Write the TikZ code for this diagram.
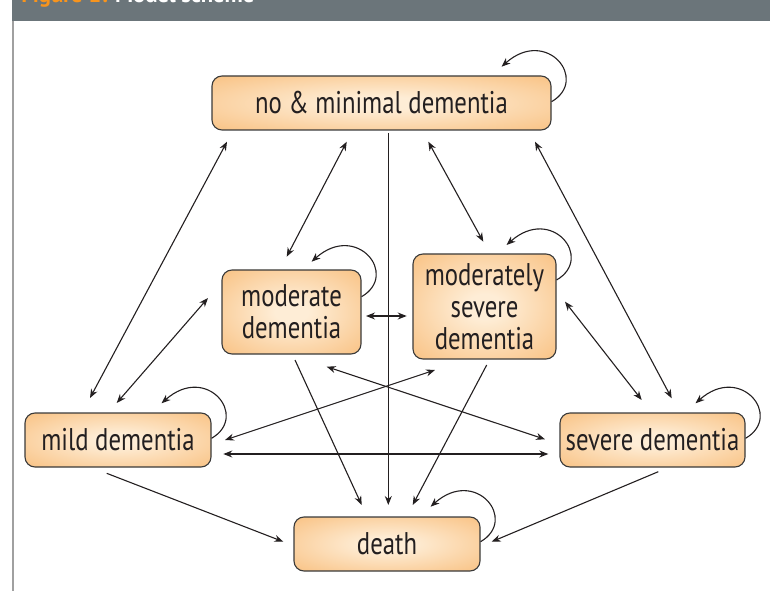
\documentclass[tikz,border=0pt]{standalone}
\usepackage{fontspec}
\setmainfont{PT Sans}
\newfontfamily\boxfont[FakeStretch=0.79]{PT Sans}
\usetikzlibrary{arrows.meta,calc}
\definecolor{lightc}{HTML}{FEEDD6}
\definecolor{orangec}{HTML}{F8BC78}
\definecolor{boxborder}{HTML}{3A3A3A}
\definecolor{linec}{HTML}{231F20}
\definecolor{txt}{HTML}{231F20}
\definecolor{headc}{HTML}{6B757A}
\definecolor{headorange}{HTML}{F7941D}
\definecolor{framec}{HTML}{A0A0A0}
\pgfdeclareradialshading{boxshade}{\pgfpoint{0bp}{0bp}}{color(0bp)=(lightc); color(6bp)=(lightc); color(40bp)=(orangec); color(75bp)=(orangec)}
\begin{document}
\begin{tikzpicture}[x=0.75pt,y=-0.75pt,
  >={Stealth[length=6.75pt,width=5.25pt]},
  box/.style={draw=boxborder, line width=0.825pt, rounded corners=7.5pt, shade, shading=boxshade,
    font=\boxfont\fontsize{23.5}{24}\selectfont, text=txt, align=center, inner sep=0pt},
  conn/.style={draw=linec, line width=0.825pt},
  loopc/.style={draw=linec, line width=0.825pt, ->}]
\useasboundingbox (0,0) rectangle (770,591);
% header and frame
\fill[headc] (12,0) rectangle (770,21);
\node[anchor=base west, inner sep=0pt, font=\bfseries\fontsize{17}{18}\selectfont] (title) at (21,2.5)
  {\textcolor{headorange}{Figure 1:} \textcolor{white}{Model scheme}};
\draw[framec, line width=1.125pt] (13,21) -- (13,591);
% nodes
\node[box, minimum width=254.25pt, minimum height=40.5pt] (nm) at (381.5,103) {no \& minimal dementia};
\node[box, minimum width=104.25pt, minimum height=63pt] (mo) at (291.5,312) {moderate\\dementia};
\node[box, minimum width=107.25pt, minimum height=78.75pt] (ms) at (484.5,306.5) {moderately\\severe\\dementia};
\node[box, minimum width=139.5pt, minimum height=40.5pt] (mi) at (118,440) {mild dementia};
\node[box, minimum width=138.75pt, minimum height=40.5pt] (se) at (652.5,440) {severe dementia};
\node[box, minimum width=139.5pt, minimum height=40.5pt] (de) at (387,544) {death};
% connectors
\draw[conn,<->] ($(mi.center)+(-28,-42)$) -- ($(nm.center)+(-154.5,38.7)$);
\draw[conn,<->] ($(mo.center)+(-83.5,-14)$) -- ($(mi.center)+(-1.3,-37)$);
\draw[conn,<->] ($(nm.center)+(-34.8,38.7)$) -- ($(mo.center)+(-4.8,-55.3)$);
\draw[conn,->] ($(nm.center)+(6.8,30)$) -- ($(de.center)+(1.3,-39)$);
\draw[conn,<->] ($(nm.center)+(46.8,38.7)$) -- ($(ms.center)+(-1.2,-64.8)$);
\draw[conn,<->] ($(nm.center)+(153.5,38.7)$) -- ($(se.center)+(19.2,-41.7)$);
\draw[conn,<->] ($(ms.center)+(80.5,-4.8)$) -- ($(se.center)+(-10.8,-40)$);
\draw[conn,<->] ($(mo.center)+(74.5,4)$) -- ($(ms.center)+(-77.8,9.5)$);
\draw[conn,<->] ($(mi.center)+(107,0)$) -- ($(ms.center)+(-49.5,63.5)$);
\draw[conn,<->] ($(mo.center)+(35.2,54.7)$) -- ($(se.center)+(-107.5,-0.7)$);
\draw[conn,<->] ($(mi.center)+(105.3,14)$) -- ($(se.center)+(-104.2,14)$);
\draw[conn,->] ($(mo.center)+(3.5,48)$) -- ($(de.center)+(-25.3,-39)$);
\draw[conn,->] ($(ms.center)+(2.2,58.5)$) -- ($(de.center)+(25.7,-39)$);
\draw[conn,->] ($(mi.center)+(-11.3,33.3)$) -- ($(de.center)+(-103.7,-2.3)$);
\draw[conn,->] ($(se.center)+(5.8,31.7)$) -- ($(de.center)+(104.7,-2.3)$);
% self loops
\coordinate (nmS) at ($(nm.east)+(0,-1.3)$);
\coordinate (moS) at ($(mo.east)+(0,-15.3)$);
\coordinate (msS) at ($(ms.east)+(0,-26.5)$);
\coordinate (miS) at ($(mi.east)+(0,-1.7)$);
\coordinate (seS) at ($(se.east)+(0,-1.7)$);
\coordinate (deS) at ($(de.east)+(0,-2.3)$);
\foreach \s in {nmS,moS,msS,miS,seS,deS}{
  \draw[loopc] (\s) .. controls ($(\s)+(38,-22)$) and ($(\s)+(-5,-75)$) .. ($(\s)+(-50,-35)$);
}
\end{tikzpicture}
\end{document}
